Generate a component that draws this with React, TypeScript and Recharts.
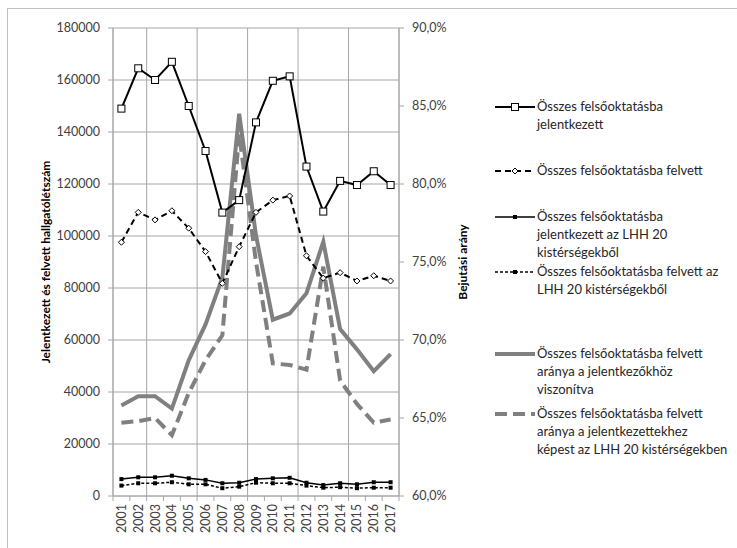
import React from 'react'
import { ComposedChart, Line, XAxis, YAxis, CartesianGrid, Legend } from 'recharts'

const years = [2001, 2002, 2003, 2004, 2005, 2006, 2007, 2008, 2009, 2010, 2011, 2012, 2013, 2014, 2015, 2016, 2017]

const jelentkezett = [149000, 164500, 160000, 167000, 150000, 132700, 109000, 113800, 143700, 159700, 161400, 126700, 109400, 121200, 119600, 124900, 119600]
const felvett = [97600, 109100, 106200, 109700, 103000, 94000, 81800, 95900, 109100, 113800, 115400, 92400, 83800, 85900, 82700, 84700, 82700]
const lhhJelentkezett = [6500, 7200, 7200, 7800, 6800, 6200, 4900, 5100, 6500, 6800, 7000, 5100, 4200, 4900, 4500, 5300, 5300]
const lhhFelvett = [4000, 4900, 4900, 5300, 4500, 4500, 3000, 3600, 5100, 4900, 4900, 4000, 3200, 3400, 3000, 3200, 3200]
const aranyOsszes = [65.8, 66.4, 66.4, 65.6, 68.7, 71.0, 74.0, 84.5, 76.7, 71.3, 71.7, 73.0, 76.3, 70.7, 69.4, 68.0, 69.1]
const aranyLhh = [64.7, 64.8, 65.0, 63.9, 66.6, 68.7, 70.3, 83.2, 75.0, 68.5, 68.4, 68.1, 74.7, 67.4, 65.9, 64.7, 64.9]

const leftTicks = [0, 20000, 40000, 60000, 80000, 100000, 120000, 140000, 160000, 180000]
const rightTicks = [60, 65, 70, 75, 80, 85, 90]

const leftTitle = 'Jelentkezett és felvett hallgatólétszám'
const rightTitle = 'Bejutási arány'

const legendLines = [
  ['Összes felsőoktatásba', 'jelentkezett'],
  ['Összes felsőoktatásba felvett'],
  ['Összes felsőoktatásba', 'jelentkezett  az LHH 20', 'kistérségekből'],
  ['Összes felsőoktatásba felvett  az', 'LHH 20 kistérségekből'],
  ['Összes felsőoktatásba felvett', 'aránya a jelentkezőkhöz', 'viszonítva'],
  ['Összes felsőoktatásba felvett', 'aránya a jelentkezettekhez', 'képest az LHH 20 kistérségekben'],
]

const data = years.map((year, i) => ({
  year,
  jel: jelentkezett[i],
  felv: felvett[i],
  lhhJel: lhhJelentkezett[i],
  lhhFelv: lhhFelvett[i],
  arany: aranyOsszes[i],
  aranyLhh: aranyLhh[i],
}))

const boundaries = [...years.map(y => y - 0.5), years[years.length - 1] + 0.5]
const xTicks = [...boundaries, ...years].sort((a, b) => a - b)

const FONT = 'Lato, "Open Sans", sans-serif'
const GRID = '#a6a6a6'
const GRAY = '#808080'
const TEXT = '#404040'

const OpenSquare = (props: any) => {
  const { cx, cy } = props
  if (cx == null || cy == null) return null
  return <rect x={cx - 3.5} y={cy - 3.5} width={7} height={7} fill="#fff" stroke="#000" strokeWidth={1} />
}

const OpenDiamond = (props: any) => {
  const { cx, cy } = props
  if (cx == null || cy == null) return null
  return <polygon points={`${cx},${cy - 3} ${cx + 3},${cy} ${cx},${cy + 3} ${cx - 3},${cy}`} fill="#fff" stroke="#000" strokeWidth={1} />
}

const SmallSquare = (props: any) => {
  const { cx, cy } = props
  if (cx == null || cy == null) return null
  return <rect x={cx - 2} y={cy - 2} width={4} height={4} fill="#000" />
}

const XTick = (props: any) => {
  const { x, y, payload } = props
  if (Number.isInteger(payload.value)) {
    return (
      <text
        x={x}
        y={y + 8}
        transform={`rotate(-90 ${x} ${y + 8})`}
        textAnchor="end"
        dominantBaseline="central"
        fontSize={12.5}
        fontFamily={FONT}
        fill={TEXT}
      >
        {payload.value}
      </text>
    )
  }
  return <line x1={x} y1={y} x2={x} y2={y + 5} stroke={GRID} />
}

// legend sample styles, same order as legendLines
const legendStyles = [
  { stroke: '#000', width: 2, dash: undefined, dot: 'square' },
  { stroke: '#000', width: 2, dash: '6 4', dot: 'diamond' },
  { stroke: '#000', width: 1.5, dash: undefined, dot: 'small' },
  { stroke: '#000', width: 1.5, dash: '3 2', dot: 'small' },
  { stroke: GRAY, width: 4, dash: undefined, dot: null },
  { stroke: GRAY, width: 4, dash: '12 6', dot: null },
]
const legendTops = [12, 76, 122, 177, 259, 319]

const ChartLegend = () => (
  <svg width={245} height={370} style={{ overflow: 'visible' }}>
    {legendLines.map((lines, i) => {
      const st = legendStyles[i]
      const cy = legendTops[i]
      return (
        <g key={i}>
          <line x1={5} x2={45} y1={cy} y2={cy} stroke={st.stroke} strokeWidth={st.width} strokeDasharray={st.dash} />
          {st.dot === 'square' && <OpenSquare cx={25} cy={cy} />}
          {st.dot === 'diamond' && <OpenDiamond cx={25} cy={cy} />}
          {st.dot === 'small' && <SmallSquare cx={25} cy={cy} />}
          {lines.map((t, j) => (
            <text key={j} x={47} y={cy + 4 + j * 18} fontSize={13} fontFamily={FONT} fill="#262626">
              {t}
            </text>
          ))}
        </g>
      )
    })}
  </svg>
)

export default function App() {
  return (
    <div style={{ position: 'absolute', left: 0, top: 0, width: 737, height: 548, background: '#fff', overflow: 'hidden' }}>
      <div style={{ position: 'absolute', left: 7, top: 8, width: 760, height: 580, border: '1px solid #bfbfbf' }} />
      <div style={{ position: 'absolute', left: 0, top: 0 }}>
        <ComposedChart width={737} height={548} data={data} margin={{ top: 28, right: 258, bottom: 0, left: 0 }}>
          <XAxis
            xAxisId="x"
            dataKey="year"
            type="number"
            domain={[2000.5, 2017.5]}
            ticks={xTicks}
            interval={0}
            tick={<XTick />}
            tickLine={false}
            tickSize={0}
            tickMargin={0}
            axisLine={{ stroke: GRID }}
            height={52}
          />
          <XAxis xAxisId="g" dataKey="year" type="number" domain={[2000.5, 2017.5]} ticks={boundaries} height={0} hide />
          <CartesianGrid xAxisId="g" yAxisId="l" stroke={GRID} strokeWidth={1} />
          <YAxis
            yAxisId="l"
            domain={[0, 180000]}
            ticks={leftTicks}
            interval={0}
            width={113}
            tickSize={5}
            tickMargin={8}
            axisLine={{ stroke: GRID }}
            tickLine={{ stroke: GRID }}
            tick={{ fontSize: 12.5, fill: TEXT, fontFamily: FONT }}
            label={{ value: leftTitle, angle: -90, position: 'center', dx: -11, style: { fontSize: 12, fontWeight: 'bold', fill: '#000', fontFamily: FONT } }}
          />
          <YAxis
            yAxisId="r"
            orientation="right"
            domain={[60, 90]}
            ticks={rightTicks}
            interval={0}
            width={80}
            tickSize={5}
            tickMargin={8}
            axisLine={{ stroke: GRID }}
            tickLine={{ stroke: GRID }}
            tickFormatter={(v: number) => `${v.toFixed(1).replace('.', ',')}%`}
            tick={{ fontSize: 12.5, fill: TEXT, fontFamily: FONT }}
            label={{ value: rightTitle, angle: -90, position: 'center', dx: 24, style: { fontSize: 12, fontWeight: 'bold', fill: '#000', fontFamily: FONT } }}
          />
          <Line xAxisId="x" yAxisId="r" dataKey="arany" stroke={GRAY} strokeWidth={4} dot={false} isAnimationActive={false} />
          <Line xAxisId="x" yAxisId="r" dataKey="aranyLhh" stroke={GRAY} strokeWidth={4} strokeDasharray="12 6" dot={false} isAnimationActive={false} />
          <Line xAxisId="x" yAxisId="l" dataKey="lhhFelv" stroke="#000" strokeWidth={1.5} strokeDasharray="3 2" dot={<SmallSquare />} isAnimationActive={false} />
          <Line xAxisId="x" yAxisId="l" dataKey="lhhJel" stroke="#000" strokeWidth={1.5} dot={<SmallSquare />} isAnimationActive={false} />
          <Line xAxisId="x" yAxisId="l" dataKey="felv" stroke="#000" strokeWidth={2} strokeDasharray="6 4" dot={<OpenDiamond />} isAnimationActive={false} />
          <Line xAxisId="x" yAxisId="l" dataKey="jel" stroke="#000" strokeWidth={2} dot={<OpenSquare />} isAnimationActive={false} />
          <Legend
            layout="vertical"
            align="center"
            verticalAlign="middle"
            content={<ChartLegend />}
            wrapperStyle={{ left: 490, top: 95, width: 245, height: 370 }}
          />
        </ComposedChart>
      </div>
    </div>
  )
}
